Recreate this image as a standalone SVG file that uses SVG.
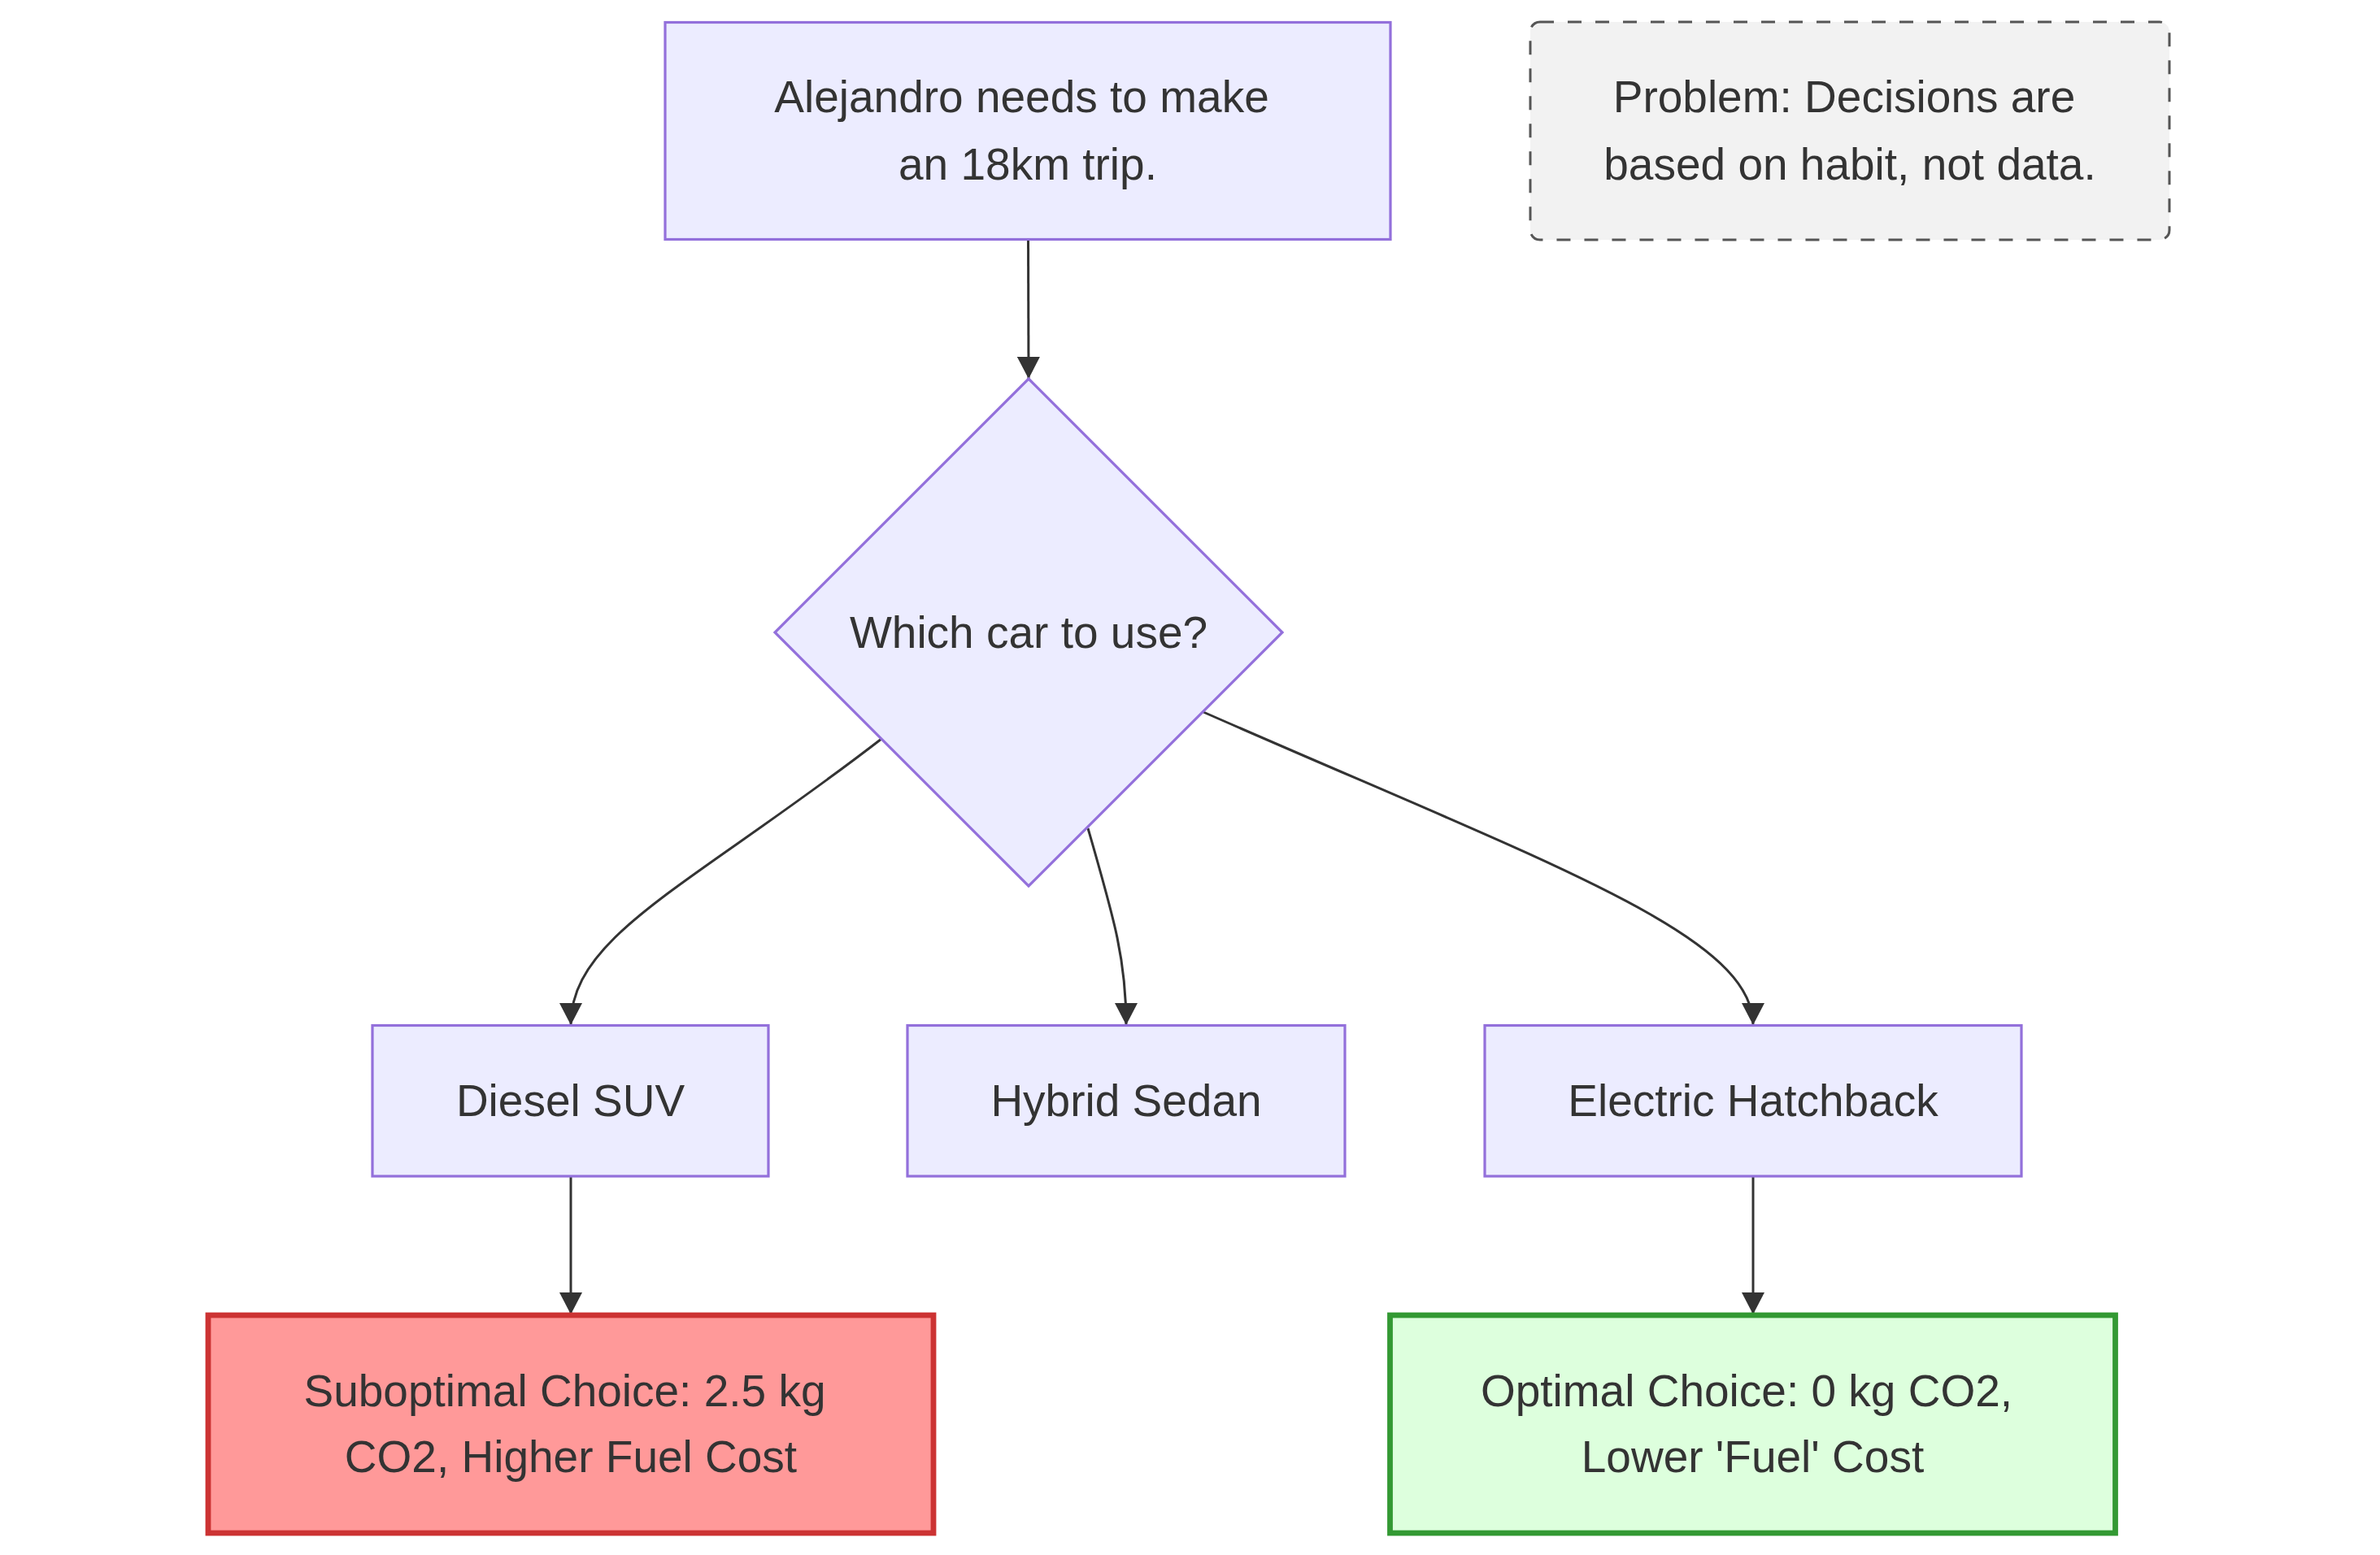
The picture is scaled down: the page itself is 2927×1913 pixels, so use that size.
<svg xmlns="http://www.w3.org/2000/svg" width="2927" height="1913" viewBox="0 0 2927 1913">
  <style>
    .node { fill: #ECECFF; stroke: #9370DB; stroke-width: 3.2; }
    .bad { fill: #FF9999; stroke: #CC3333; stroke-width: 6.8; }
    .good { fill: #DDFFDD; stroke: #339933; stroke-width: 6.8; }
    .note { fill: #F2F2F2; stroke: #555555; stroke-width: 3; stroke-dasharray: 17 17; }
    .lbl { font-family: "Liberation Sans", Arial, sans-serif; font-size: 55px; fill: #333333; text-anchor: middle; }
    .edge { fill: none; stroke: #333333; stroke-width: 3; marker-end: url(#arrow); }
  </style>
  <defs>
    <marker id="arrow" markerUnits="userSpaceOnUse" markerWidth="27" markerHeight="28" refX="27" refY="14" orient="auto">
      <path d="M0,0 L27,14 L0,28 z" fill="#333333"/>
    </marker>
  </defs>
  <rect width="2927" height="1913" fill="#FFFFFF"/>

  <g id="connectors">
    <path class="edge" d="M1264.5,295 L1265,466"/>
    <path class="edge" d="M1084,909 C850,1090 702,1150 702,1261"/>
    <path class="edge" d="M1338,1019 C1370,1130 1385,1180 1385,1261"/>
    <path class="edge" d="M1480,876 C1910,1065 2156,1150 2156,1261"/>
    <path class="edge" d="M702,1447 L702,1617"/>
    <path class="edge" d="M2156,1447 L2156,1617"/>
  </g>

  <g id="node-trip">
    <rect class="node" x="818" y="27.5" width="892" height="267"/>
    <text class="lbl" x="1256.5" y="138">Alejandro needs to make</text>
    <text class="lbl" x="1264" y="221">an 18km trip.</text>
  </g>

  <g id="node-problem">
    <rect class="note" x="1882" y="27" width="786" height="268" rx="12" ry="12"/>
    <text class="lbl" x="2268" y="138">Problem: Decisions are</text>
    <text class="lbl" x="2275" y="221">based on habit, not data.</text>
  </g>

  <g id="node-decision">
    <polygon class="node" points="1265,466 1577,778 1265,1090 953,778"/>
    <text class="lbl" x="1265" y="797">Which car to use?</text>
  </g>

  <g id="node-diesel">
    <rect class="node" x="458" y="1261.5" width="487" height="185.5"/>
    <text class="lbl" x="701.5" y="1373">Diesel SUV</text>
  </g>

  <g id="node-hybrid">
    <rect class="node" x="1116" y="1261.5" width="538" height="185.5"/>
    <text class="lbl" x="1385" y="1373">Hybrid Sedan</text>
  </g>

  <g id="node-electric">
    <rect class="node" x="1826" y="1261.5" width="660" height="185.5"/>
    <text class="lbl" x="2156" y="1373">Electric Hatchback</text>
  </g>

  <g id="node-suboptimal">
    <rect class="bad" x="256" y="1618" width="892" height="268"/>
    <text class="lbl" x="694.5" y="1730">Suboptimal Choice: 2.5 kg</text>
    <text class="lbl" x="702" y="1811">CO2, Higher Fuel Cost</text>
  </g>

  <g id="node-optimal">
    <rect class="good" x="1709.5" y="1618" width="892" height="268"/>
    <text class="lbl" x="2148" y="1730">Optimal Choice: 0 kg CO2,</text>
    <text class="lbl" x="2155.5" y="1811">Lower 'Fuel' Cost</text>
  </g>
</svg>
